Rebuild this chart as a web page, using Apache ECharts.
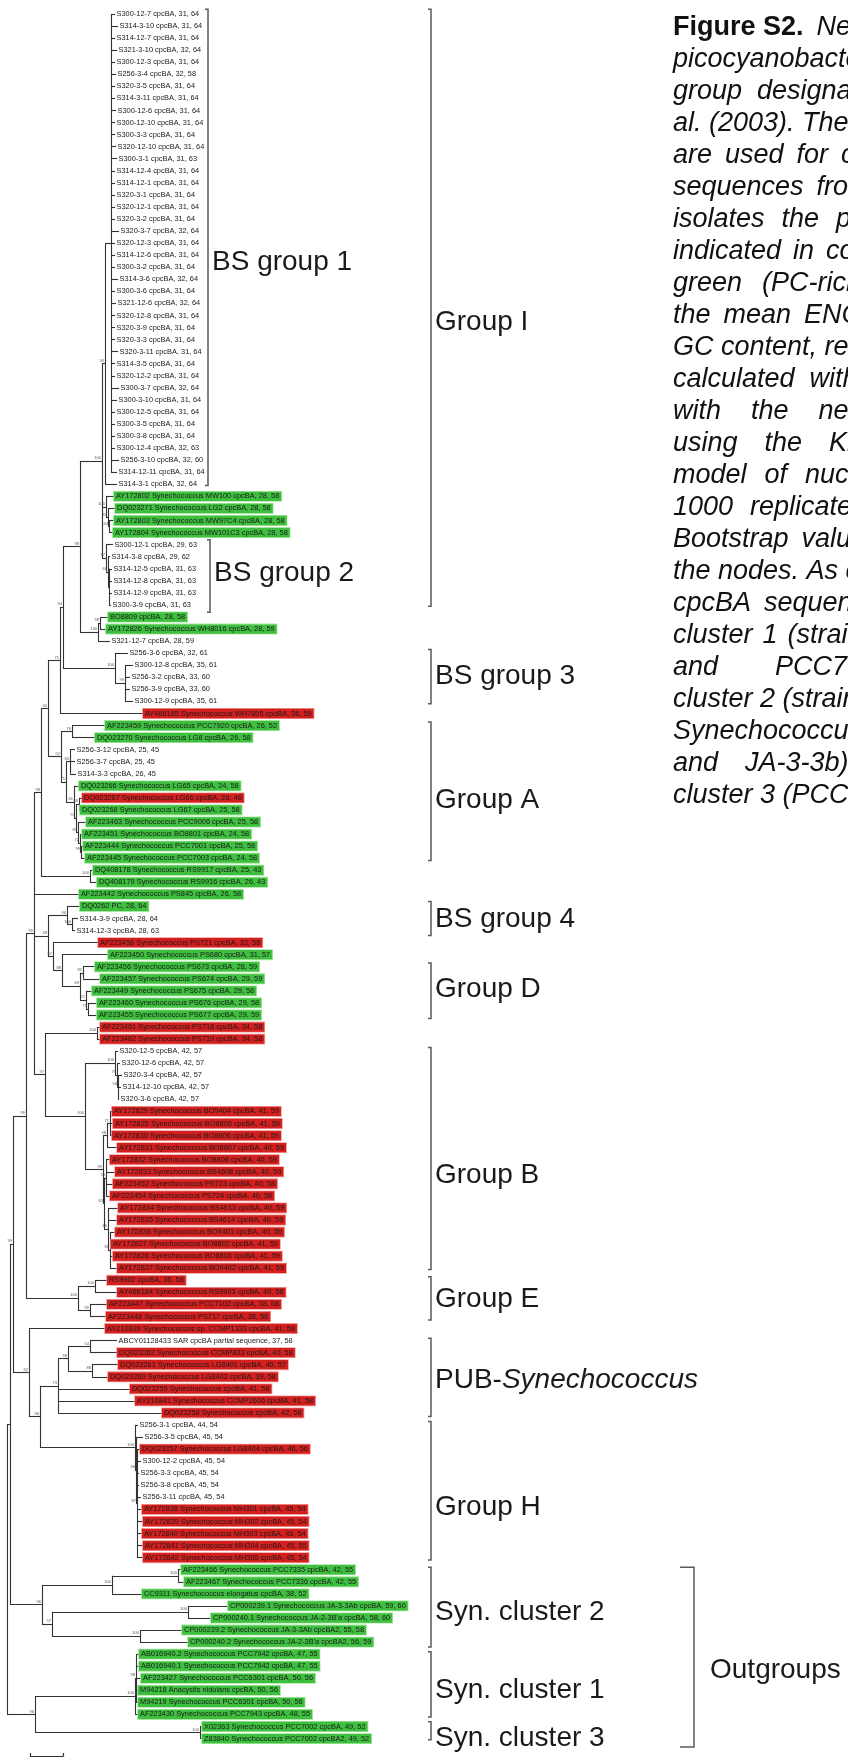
<!DOCTYPE html>
<html>
<head>
<meta charset="utf-8">
<script src="https://cdn.jsdelivr.net/npm/echarts@6/dist/echarts.min.js"></script>
<style>
  html, body { margin: 0; padding: 0; background: #fff; }
  #chart { width: 848px; height: 1758px; }
</style>
</head>
<body>
<div id="chart"></div>
<script>
// ---------------------------------------------------------------------------
// cpcBA neighbour-joining tree of picocyanobacteria
// ---------------------------------------------------------------------------

// Leaf labels, top to bottom: sequence, ENC, GC3 (%)
const taxa = [
  'S300-12-7 cpcBA, 31, 64', 'S314-3-10 cpcBA, 31, 64', 'S314-12-7 cpcBA, 31, 64', 'S321-3-10 cpcBA, 32, 64',
  'S300-12-3 cpcBA, 31, 64', 'S256-3-4 cpcBA, 32, 58', 'S320-3-5 cpcBA, 31, 64', 'S314-3-11 cpcBA, 31, 64',
  'S300-12-6 cpcBA, 31, 64', 'S300-12-10 cpcBA, 31, 64', 'S300-3-3 cpcBA, 31, 64', 'S320-12-10 cpcBA, 31, 64',
  'S300-3-1 cpcBA, 31, 63', 'S314-12-4 cpcBA, 31, 64', 'S314-12-1 cpcBA, 31, 64', 'S320-3-1 cpcBA, 31, 64',
  'S320-12-1 cpcBA, 31, 64', 'S320-3-2 cpcBA, 31, 64', 'S320-3-7 cpcBA, 32, 64', 'S320-12-3 cpcBA, 31, 64',
  'S314-12-6 cpcBA, 31, 64', 'S300-3-2 cpcBA, 31, 64', 'S314-3-6 cpcBA, 32, 64', 'S300-3-6 cpcBA, 31, 64',
  'S321-12-6 cpcBA, 32, 64', 'S320-12-8 cpcBA, 31, 64', 'S320-3-9 cpcBA, 31, 64', 'S320-3-3 cpcBA, 31, 64',
  'S320-3-11 cpcBA, 31, 64', 'S314-3-5 cpcBA, 31, 64', 'S320-12-2 cpcBA, 31, 64', 'S300-3-7 cpcBA, 32, 64',
  'S300-3-10 cpcBA, 31, 64', 'S300-12-5 cpcBA, 31, 64', 'S300-3-5 cpcBA, 31, 64', 'S300-3-8 cpcBA, 31, 64',
  'S300-12-4 cpcBA, 32, 63', 'S256-3-10 cpcBA, 32, 60', 'S314-12-11 cpcBA, 31, 64', 'S314-3-1 cpcBA, 32, 64',
  'AY172802 Synechococcus MW100 cpcBA, 28, 58', 'DQ023271 Synechococcus LG2 cpcBA, 28, 58',
  'AY172803 Synechococcus MW97C4 cpcBA, 28, 58', 'AY172804 Synechococcus MW101C3 cpcBA, 28, 58',
  'S300-12-1 cpcBA, 29, 63', 'S314-3-8 cpcBA, 29, 62', 'S314-12-5 cpcBA, 31, 63', 'S314-12-8 cpcBA, 31, 63',
  'S314-12-9 cpcBA, 31, 63', 'S300-3-9 cpcBA, 31, 63',
  'BO8809 cpcBA, 28, 58', 'AY172826 Synechococcus WH8016 cpcBA, 28, 59', 'S321-12-7 cpcBA, 28, 59',
  'S256-3-6 cpcBA, 32, 61', 'S300-12-8 cpcBA, 35, 61', 'S256-3-2 cpcBA, 33, 60', 'S256-3-9 cpcBA, 33, 60',
  'S300-12-9 cpcBA, 35, 61',
  'AY466185 Synechococcus WH7805 cpcBA, 36, 59',
  'AF223459 Synechococcus PCC7920 cpcBA, 26, 52', 'DQ023270 Synechococcus LG8 cpcBA, 26, 58',
  'S256-3-12 cpcBA, 25, 45', 'S256-3-7 cpcBA, 25, 45', 'S314-3-3 cpcBA, 26, 45',
  'DQ023266 Synechococcus LG65 cpcBA, 24, 58', 'DQ023267 Synechococcus LG66 cpcBA, 28, 46',
  'DQ023268 Synechococcus LG67 cpcBA, 25, 58', 'AF223463 Synechococcus PCC9006 cpcBA, 25, 58',
  'AF223451 Synechococcus BO8801 cpcBA, 24, 58', 'AF223444 Synechococcus PCC7001 cpcBA, 25, 58',
  'AF223445 Synechococcus PCC7003 cpcBA, 24, 58',
  'DQ408178 Synechococcus RS9917 cpcBA, 25, 43', 'DQ408179 Synechococcus RS9916 cpcBA, 26, 43',
  'AF223442 Synechococcus PS845 cpcBA, 26, 58',
  'DQ0262 PC, 28, 64', 'S314-3-9 cpcBA, 28, 64', 'S314-12-3 cpcBA, 28, 63',
  'AF223458 Synechococcus PS721 cpcBA, 33, 58',
  'AF223450 Synechococcus PS680 cpcBA, 31, 57', 'AF223456 Synechococcus PS673 cpcBA, 28, 59',
  'AF223457 Synechococcus PS674 cpcBA, 29, 59', 'AF223449 Synechococcus PS675 cpcBA, 29, 58',
  'AF223460 Synechococcus PS676 cpcBA, 29, 58', 'AF223455 Synechococcus PS677 cpcBA, 29, 59',
  'AF223461 Synechococcus PS718 cpcBA, 34, 58', 'AF223462 Synechococcus PS719 cpcBA, 34, 58',
  'S320-12-5 cpcBA, 42, 57', 'S320-12-6 cpcBA, 42, 57', 'S320-3-4 cpcBA, 42, 57', 'S314-12-10 cpcBA, 42, 57',
  'S320-3-6 cpcBA, 42, 57',
  'AY172829 Synechococcus BO9404 cpcBA, 41, 59', 'AY172825 Synechococcus BO8805 cpcBA, 41, 59',
  'AY172830 Synechococcus BO8806 cpcBA, 41, 59', 'AY172831 Synechococcus BO8807 cpcBA, 40, 59',
  'AY172832 Synechococcus BO8808 cpcBA, 40, 59', 'AY172833 Synechococcus BS4608 cpcBA, 40, 59',
  'AF223452 Synechococcus PS723 cpcBA, 40, 58', 'AF223454 Synechococcus PS724 cpcBA, 40, 58',
  'AY172834 Synechococcus BS4613 cpcBA, 40, 59', 'AY172835 Synechococcus BS4614 cpcBA, 40, 59',
  'AY172836 Synechococcus BO9401 cpcBA, 40, 59', 'AY172827 Synechococcus BO8802 cpcBA, 41, 59',
  'AY172828 Synechococcus BO8803 cpcBA, 41, 59', 'AY172837 Synechococcus BO9402 cpcBA, 41, 59',
  'RS9902 cpcBA, 36, 58', 'AY466184 Synechococcus RS9903 cpcBA, 40, 58',
  'AF223447 Synechococcus PCC7102 cpcBA, 38, 58', 'AF223448 Synechococcus PS717 cpcBA, 38, 58',
  'AY210839 Synechococcus sp. CCMP1333 cpcBA, 41, 58',
  'ABCY01128433 SAR cpcBA partial sequence, 37, 58',
  'DQ023262 Synechococcus CCMP833 cpcBA, 40, 58', 'DQ023261 Synechococcus LG8401 cpcBA, 40, 57',
  'DQ023260 Synechococcus LG8402 cpcBA, 39, 58', 'DQ023259 Synechococcus cpcBA, 41, 58',
  'AY210841 Synechococcus CCMP2606 cpcBA, 41, 58', 'DQ023258 Synechococcus cpcBA, 42, 58',
  'S256-3-1 cpcBA, 44, 54', 'S256-3-5 cpcBA, 45, 54',
  'DQ023257 Synechococcus LG8404 cpcBA, 46, 56',
  'S300-12-2 cpcBA, 45, 54', 'S256-3-3 cpcBA, 45, 54', 'S256-3-8 cpcBA, 45, 54', 'S256-3-11 cpcBA, 45, 54',
  'AY172838 Synechococcus MH301 cpcBA, 45, 54', 'AY172839 Synechococcus MH302 cpcBA, 45, 54',
  'AY172840 Synechococcus MH303 cpcBA, 45, 54', 'AY172841 Synechococcus MH304 cpcBA, 45, 55',
  'AY172842 Synechococcus MH305 cpcBA, 45, 54',
  'AF223466 Synechococcus PCC7335 cpcBA, 42, 55', 'AF223467 Synechococcus PCC7336 cpcBA, 42, 55',
  'CC9311 Synechococcus elongatus cpcBA, 38, 52',
  'CP000239.1 Synechococcus JA-3-3Ab cpcBA, 59, 60', "CP000240.1 Synechococcus JA-2-3B'a cpcBA, 58, 60",
  'CP000239.2 Synechococcus JA-3-3Ab cpcBA2, 55, 58', "CP000240.2 Synechococcus JA-2-3B'a cpcBA2, 56, 59",
  'AB016940.2 Synechococcus PCC7942 cpcBA, 47, 55', 'AB016940.1 Synechococcus PCC7942 cpcBA, 47, 55',
  'AF223427 Synechococcus PCC6301 cpcBA, 50, 56', 'M94218 Anacystis nidulans cpcBA, 50, 56',
  'M94219 Synechococcus PCC6301 cpcBA, 50, 56', 'AF223430 Synechococcus PCC7943 cpcBA, 48, 55',
  'X02363 Synechococcus PCC7002 cpcBA, 49, 52', 'Z83840 Synechococcus PCC7002 cpcBA2, 49, 52'
];

// Pigment type of the cultured strains, as runs down the leaf list:
// 'PC' phycocyanin-rich, 'PE' phycoerythrin-rich, '-' environmental clone
const pigmentRuns = [
  ['-', 40], ['PC', 4], ['-', 6], ['PC', 2], ['-', 6], ['PE', 1], ['PC', 2], ['-', 3],
  ['PC', 1], ['PE', 1], ['PC', 9], ['-', 2], ['PE', 1], ['PC', 6], ['PE', 2], ['-', 5],
  ['PE', 19], ['-', 1], ['PE', 6], ['-', 2], ['PE', 1], ['-', 4], ['PE', 5], ['PC', 15]
];

// Root-to-tip distance of every leaf (units of 0.001 substitutions per site)
const tipDepth = [
  65.5, 67.3, 65.5, 66.7, 65.5, 66.1, 65.5, 65.5, 66.1, 65.5,
  65.5, 66.1, 66.7, 65.5, 65.5, 65.5, 65.5, 65.5, 67.9, 65.5,
  65.5, 65.5, 67.3, 65.5, 66.1, 65.5, 65.5, 65.5, 67.3, 65.5,
  65.5, 67.9, 66.7, 65.5, 65.5, 65.5, 65.5, 67.9, 66.7, 66.7,
  64.8, 65.5, 64.8, 64.2,
  64.2, 62.4, 63.6, 63.6, 63.6, 63.0,
  61.2, 60.0, 62.4,
  73.3, 76.4, 74.5, 74.5, 76.4,
  82.4,
  59.4, 53.3,
  41.2, 41.2, 41.8,
  43.6, 45.5, 44.2, 47.9, 45.5, 46.1, 47.3,
  52.1, 54.5,
  43.6,
  44.2, 43.0, 41.2,
  55.2,
  61.2, 53.3, 56.4, 51.5, 54.5, 54.5,
  56.4, 56.4,
  67.3, 68.5, 69.7, 69.1, 67.9,
  63.6, 64.2, 63.6, 66.7, 62.4, 65.5, 64.2, 62.4, 67.3, 66.7, 65.5, 63.0, 64.2, 66.7,
  60.6, 66.7, 60.6, 60.0,
  59.4,
  66.7, 66.7, 67.3, 61.2, 74.5, 77.6, 93.9,
  79.4, 82.4, 80.6, 81.2, 80.0, 80.0, 81.2, 81.8, 82.4, 81.8, 82.4, 82.4,
  105.5, 107.3, 81.8, 133.9, 123.6, 106.1, 109.7,
  80.0, 80.0, 81.2, 79.4, 79.4, 79.4,
  118.2, 118.2
];

// Topology. Internal node = [node depth, bootstrap %, ...children]; a number is a leaf index.
const groupI = [44.2, 98,
  [57.6, 100,
    [59.4, 99, [63.0, null, 0, 1, 2, 3, 4, 5, 6, 7, 8, 9, 10, 11, 12, 13, 14, 15, 16, 17, 18, 19,
      20, 21, 22, 23, 24, 25, 26, 27, 28, 29, 30, 31, 32, 33, 34, 35, 36, 37, 38], 39],
    [60.0, 100, 40, [61.2, 87, 41, [61.8, 64, 42, 43]]],
    [60.0, 97, 44, [61.2, 60, 45, [61.8, null, 46, 47, 48, 49]]]],
  [55.2, 100, [56.4, 98, 50, 51], 52]];
const bsGroup3 = [65.5, 100, 53, [71.5, 99, 54, 55, 56, 57]];
const groupA = [32.7, 52,
  [39.4, 76, 59, 60],
  [35.8, 75,
    [38.2, 84, 61, 62, 63],
    [40.6, 61, 64, [41.8, 53, [43.6, 66, 65, 66], [43.0, 80, 67, [44.2, 72, 68, [44.8, 99, 69, 70]]]]]]];
const bsGroup4 = [36.4, 96, 74, [39.4, 100, 75, 76]];
const groupD = [33.3, 88, 78,
  [44.2, 69, [46.1, 81, 79, 80], [47.9, 72, 81, [49.1, 73, 82, 83]]]];
const groupB = [47.3, 100,
  [65.5, 100, 86, [66.7, 79, 87, [67.3, 56, 88, 89, 90]]],
  [58.2, 99,
    [60.6, 98, [62.4, 71, 91, 92, 93], 94],
    [58.8, 63, [60.0, 54, 95, 96, 97, 98], [61.2, 66, 99, 100, [62.4, 81, 101, 102, 103, 104]]]]];
const groupE = [43.0, 100, [53.3, 100, 105, 106], [50.3, 99, 107, 108]];
const pubSyn = [30.9, 73, [37.0, 98, [50.3, 54, 110, 111], [51.5, 88, 112, 113]], 114, 115, 116];
const groupH = [77.6, 100, 117, [78.2, 96, 118, [78.8, 87, 119, 120, 121, 122, 123, 124, 125, 126, 127, 128]]];
const synCluster2 = [21.2, 96,
  [63.6, 100, [103.6, 100, 129, 130], 131],
  [27.3, 57, [109.7, 100, 132, 133], [80.6, 100, 134, 135]]];
const synCluster1 = [77.6, 100, [78.2, 98, 136, 137, 138, 139, 140], 141];
const synCluster3 = [117.0, 100, 142, 143];

const tree = [0, null,
  [1.8, null,
    [3.6, 99,
      [11.5, 99,
        [16.4, 99,
          [20.6, 98,
            [24.8, 40, [32.1, 71, [33.9, 94, groupI, bsGroup3], 58], groupA],
            [50.3, 100, 71, 72]],
          73,
          [24.8, 48, bsGroup4, [27.9, 57, 77, groupD]],
          [23.0, 97, [54.5, 100, 84, 85], groupB]],
        groupE],
      [13.3, 62, 109, [20.0, 96, pubSyn, groupH]]],
    synCluster2],
  [17.0, 96, synCluster1, synCluster3]];

// Scale bar length (0.001 substitutions per site)
const scaleBar = 20;

// Clade annotations: label, first row, last row, label row (row = leaf index)
const cladeNames = ['BS group 1', 'Group I', 'BS group 2', 'BS group 3', 'Group A', 'BS group 4',
  'Group D', 'Group B', 'Group E', 'PUB-Synechococcus', 'Group H', 'Syn. cluster 2',
  'Syn. cluster 1', 'Syn. cluster 3', 'Outgroups'];
const cladeFrom = [-0.4, -0.4, 43.6, 52.7, 58.7, 73.6, 78.7, 85.7, 104.7, 109.8, 116.7, 128.8, 135.8, 141.6, 128.8];
const cladeTo = [39.1, 49.1, 49.6, 57.2, 70.2, 76.4, 83.3, 104.1, 108.3, 116.3, 128.2, 135.4, 141.2, 143.1, 143.7];
const cladeLabelRow = [20.6, 25.6, 46.4, 54.9, 65.2, 75.1, 80.9, 96.3, 106.6, 113.3, 123.8, 132.5, 139.0, 143.0, 137.3];

// Caption lines: words of each line (the column runs past the right edge of the page)
const captionWords = [
  ['Figure S2.', 'Neighbor-joining', 'tree'],
  ['picocyanobacterial', 'cpcBA'],
  ['group', 'designations', 'after'],
  ['al.', '(2003).', 'The', 'numbers'],
  ['are', 'used', 'for', 'comparison'],
  ['sequences', 'from'],
  ['isolates', 'the', 'pigment'],
  ['indicated', 'in', 'colour'],
  ['green', '(PC-rich)'],
  ['the', 'mean', 'ENC'],
  ['GC', 'content,', 'respectively.'],
  ['calculated', 'with'],
  ['with', 'the', 'neighbor-joining'],
  ['using', 'the', 'Kimura'],
  ['model', 'of', 'nucleotide'],
  ['1000', 'replicates.'],
  ['Bootstrap', 'values'],
  ['the', 'nodes.', 'As', 'controls,'],
  ['cpcBA', 'sequences'],
  ['cluster', '1', '(strains'],
  ['and', 'PCC7942),'],
  ['cluster', '2', '(strains'],
  ['Synechococcus'],
  ['and', 'JA-3-3b)'],
  ['cluster', '3', '(PCC7002)']
];

// ---------------------------------------------------------------------------
// Drawing
// ---------------------------------------------------------------------------
const FONT = '"Liberation Sans", Arial, Helvetica, sans-serif';
const fillOf = { PC: '#3fbf3f', PE: '#d3201f' };
const haloOf = { PC: 'rgba(160,228,150,0.9)', PE: 'rgba(240,150,145,0.9)' };
const wordGap = [13, 7.5, 15, 7.5, 13, 13, 17, 12, 20, 13, 7.5, 15, 30, 27, 18, 17, 13, 7.5, 13, 10, 57, 7.5, 7.5, 27, 7.5];

const pigment = [];
pigmentRuns.forEach(([p, n]) => { for (let k = 0; k < n; k++) pigment.push(p); });

// Rectangular cladogram: node row = midpoint of first and last child
const branches = [];
const support = [];
function place(node) {
  if (typeof node === 'number') return { x: tipDepth[node], y: node };
  const [depth, boot, ...kids] = node;
  const pts = kids.map(place);
  const y0 = pts[0].y, y1 = pts[pts.length - 1].y;
  branches.push({ coords: [[depth, y0], [depth, y1]] });
  pts.forEach(p => branches.push({ coords: [[depth, p.y], [p.x, p.y]] }));
  const y = (y0 + y1) / 2;
  if (boot != null) support.push([depth, y, boot]);
  return { x: depth, y };
}
place(tree);

const leafData = taxa.map((t, i) => [tipDepth[i], i]);
const cladeData = cladeNames.map((n, i) => [0, cladeFrom[i], cladeTo[i], cladeLabelRow[i]]);

// Bracket placement on the page
const bracketX = [208, 431, 210, 431, 431, 431, 431, 431, 431, 431, 431, 431, 431, 431, 694];
const bracketTick = [3, 3, 3, 3, 3, 3, 3, 3, 3, 3, 3, 3, 3, 3, 14];

// Caption as justified words
const measure = document.createElement('canvas').getContext('2d');
const captionEls = [];
captionWords.forEach((words, li) => {
  let x = 673;
  const y = 14 + li * 32;
  words.forEach((w, wi) => {
    const bold = li === 0 && wi === 0;
    const font = (bold ? 'bold ' : 'italic ') + '27px ' + FONT;
    measure.font = font;
    captionEls.push({
      type: 'text', x, y, silent: true,
      style: { text: w, font, fill: '#111', verticalAlign: 'alphabetic' }
    });
    x += measure.measureText(w).width + wordGap[li];
  });
});

const chart = echarts.init(document.getElementById('chart'), null, { renderer: 'canvas' });
chart.setOption({
  animation: false,
  backgroundColor: '#fff',
  grid: { left: 0, top: 0, width: 848, height: 1758, containLabel: false },
  xAxis: { type: 'value', min: -4.24, max: 509.7, show: false },
  yAxis: { type: 'value', min: -1.16, max: 144.61, inverse: true, show: false },
  graphic: captionEls,
  series: [
    {
      type: 'lines',
      coordinateSystem: 'cartesian2d',
      polyline: false,
      silent: true,
      clip: false,
      lineStyle: { color: '#333', width: 1.1, opacity: 1 },
      data: branches
    },
    {
      // scale bar
      type: 'lines',
      coordinateSystem: 'cartesian2d',
      silent: true,
      clip: false,
      lineStyle: { color: '#333', width: 1.2, opacity: 1 },
      data: [
        { coords: [[14, 144.5], [14 + scaleBar, 144.5]] },
        { coords: [[14, 144.5], [14, 144.2]] },
        { coords: [[14 + scaleBar, 144.5], [14 + scaleBar, 144.2]] }
      ]
    },
    {
      // leaf labels
      type: 'custom',
      coordinateSystem: 'cartesian2d',
      silent: true,
      clip: false,
      data: leafData,
      renderItem: (params, api) => {
        const i = params.dataIndex;
        const pt = api.coord([api.value(0), api.value(1)]);
        const p = pigment[i];
        const style = {
          text: taxa[i], fontSize: 7.4, fontFamily: FONT, fill: '#1a1a1a',
          align: 'left', verticalAlign: 'middle', lineHeight: 7.5
        };
        if (p !== '-') {
          Object.assign(style, {
            backgroundColor: fillOf[p], borderColor: haloOf[p], borderWidth: 0.8,
            padding: [1.2, 2, 0.6, 2]
          });
          return { type: 'text', x: pt[0], y: pt[1], style };
        }
        return { type: 'text', x: pt[0] + 1.5, y: pt[1], style };
      }
    },
    {
      // bootstrap support
      type: 'custom',
      coordinateSystem: 'cartesian2d',
      silent: true,
      clip: false,
      data: support,
      renderItem: (params, api) => {
        const pt = api.coord([api.value(0), api.value(1)]);
        return {
          type: 'text', x: pt[0] - 1, y: pt[1] - 1,
          style: { text: String(api.value(2)), fontSize: 4, fontFamily: FONT, fill: '#555',
                   align: 'right', verticalAlign: 'bottom' }
        };
      }
    },
    {
      // clade brackets and names
      type: 'custom',
      coordinateSystem: 'cartesian2d',
      silent: true,
      clip: false,
      data: cladeData,
      renderItem: (params, api) => {
        const i = params.dataIndex;
        const ya = api.coord([0, api.value(1)])[1];
        const yb = api.coord([0, api.value(2)])[1];
        const yl = api.coord([0, api.value(3)])[1];
        const bx = bracketX[i], t = bracketTick[i];
        const name = cladeNames[i];
        const textStyle = name.startsWith('PUB-')
          ? { text: '{n|PUB-}{i|Synechococcus}',
              rich: { n: { fontSize: 28, fontFamily: FONT, fill: '#1a1a1a' },
                      i: { fontSize: 28, fontFamily: FONT, fontStyle: 'italic', fill: '#1a1a1a' } } }
          : { text: name, fontSize: 28, fontFamily: FONT, fill: '#1a1a1a' };
        return {
          type: 'group',
          children: [
            { type: 'polyline',
              shape: { points: [[bx - t, ya], [bx, ya], [bx, yb], [bx - t, yb]] },
              style: { stroke: '#5a5a5a', lineWidth: 1.5, fill: null } },
            { type: 'text', x: bx + (t > 5 ? 16 : 4), y: yl,
              style: Object.assign(textStyle, { align: 'left', verticalAlign: 'middle' }) }
          ]
        };
      }
    }
  ]
});
</script>
</body>
</html>
